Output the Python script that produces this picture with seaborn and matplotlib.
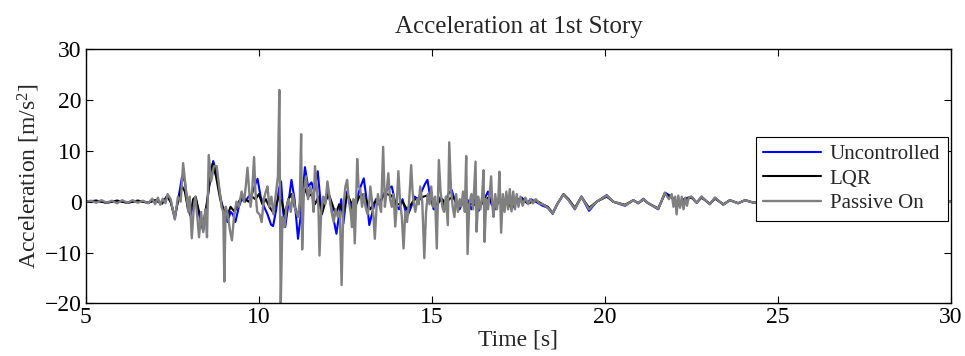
import numpy as np
import pandas as pd
import matplotlib
matplotlib.use("Agg")
import matplotlib.pyplot as plt
import seaborn as sns

# Uncontrolled response: time [s] and acceleration [m/s^2]
t_unc = [5.0, 5.3, 5.6, 5.9, 6.2, 6.5, 6.8, 7.0, 7.2, 7.35, 7.45, 7.57, 7.67, 7.78, 7.86, 7.95, 8.02, 8.1,
         8.17, 8.27, 8.39, 8.48, 8.57, 8.68, 8.78, 8.9, 9.0, 9.09, 9.18, 9.25, 9.32, 9.42, 9.5, 9.6, 9.7,
         9.8, 9.9, 9.96, 10.05, 10.15, 10.25, 10.35, 10.41, 10.5, 10.58, 10.64, 10.7, 10.76, 10.84, 10.94,
         11.03, 11.13, 11.22, 11.33, 11.42, 11.52, 11.6, 11.7, 11.8, 11.9, 12.0, 12.1, 12.24, 12.32, 12.38,
         12.44, 12.55, 12.65, 12.75, 12.85, 12.94, 13.03, 13.12, 13.19, 13.28, 13.38, 13.5, 13.6, 13.72,
         13.84, 13.95, 14.05, 14.15, 14.28, 14.4, 14.5, 14.6, 14.7, 14.8, 14.87, 14.95, 15.05, 15.15, 15.25,
         15.35, 15.47, 15.57, 15.7, 15.8, 15.92, 16.02, 16.14, 16.25, 16.35, 16.45, 16.55, 16.62, 16.72,
         16.82, 16.95, 17.05, 17.15, 17.3, 17.45, 17.6, 17.75, 17.85, 18.0, 18.2, 18.35, 18.49, 18.62, 18.8,
         18.95, 19.13, 19.32, 19.54, 19.76, 20.05, 20.24, 20.4, 20.58, 20.82, 20.96, 21.11, 21.25, 21.54,
         21.73, 21.93, 22.1, 22.3, 22.5, 22.65, 22.79, 23.03, 23.18, 23.42, 23.61, 23.85, 24.05, 24.3, 24.6,
         25.0, 25.5, 26.0, 26.6, 27.2, 27.8, 28.4, 29.0, 29.6, 30.0]
a_unc = [0.0, 0.2, -0.2, 0.2, -0.2, 0.2, -0.2, 0.3, -0.4, 1.2, 0.0, -3.3, 0.5, 5.0, 4.0, -1.0, -2.8, -0.5,
         0.8, -2.5, -5.8, -1.5, 3.5, 8.0, 5.5, 0.5, -2.5, -4.0, -2.0, -2.5, -4.0, -1.0, 0.5, 0.0, 1.0,
         1.5, 3.5, 4.5, 1.0, -1.0, -2.5, -4.5, -4.8, -1.5, 2.5, 4.0, -2.0, -5.0, -1.0, 4.3,
         0.5, -7.3, -2.0, 6.8, 3.0, 3.8, 2.0, 6.0, -1.5, 0.5, 2.0, -1.5, -6.3, -2.5, 0.5,
         -4.3, 2.0, -0.5, -2.5, 1.0, 3.0, 4.6, 0.0, -4.6, -2.0, 0.5, -0.5, 1.5, 2.5,
         3.0, -0.5, -1.5, 0.5, -3.0, -1.0, 1.0, 0.5, 2.0, 3.5, 4.3, 1.0, -1.5, -1.0, 1.0,
         -1.0, 1.5, 2.3, -0.5, -1.5, 0.5, 0.5, -1.5, 0.5, -1.8, 0.0, 1.0, 2.0, -0.5,
         -1.5, 0.5, -0.5, 0.8, -1.5, 0.3, 0.8, -0.3, 0.5, 0.0, -0.8, -1.2, -2.4, -0.5, 1.4,
         0.3, -1.5, 1.0, -1.8, 0.0, 1.3, 0.0, -0.4, -0.8, 0.3, -0.3, 0.6, -0.3, -1.5,
         1.8, 1.0, -0.8, 0.6, 1.0, -0.2, 1.0, -0.5, 0.8, -0.6, 0.3, -0.3, 0.3, -0.2, 0.4,
         -0.3, 0.3, -0.2, 0.2, -0.2, 0.2, -0.1, 0.1, -0.1, 0.0]

# LQR-controlled response
t_lqr = [5.0, 5.3, 5.6, 5.9, 6.2, 6.5, 6.8, 7.0, 7.2, 7.35, 7.45, 7.57, 7.67, 7.78, 7.86, 7.95, 8.02, 8.1,
         8.17, 8.27, 8.39, 8.48, 8.57, 8.66, 8.76, 8.88, 9.0, 9.08, 9.18, 9.3, 9.42, 9.5, 9.6, 9.7, 9.8,
         9.9, 10.0, 10.1, 10.2, 10.3, 10.4, 10.5, 10.58, 10.66, 10.75, 10.85, 10.94, 11.03, 11.13, 11.22,
         11.33, 11.42, 11.52, 11.62, 11.72, 11.82, 11.92, 12.02, 12.12, 12.22, 12.32, 12.44, 12.55, 12.65,
         12.78, 12.9, 13.03, 13.15, 13.22, 13.35, 13.47, 13.58, 13.7, 13.84, 13.95, 14.05, 14.15, 14.28,
         14.4, 14.5, 14.62, 14.75, 14.87, 15.0, 15.1, 15.2, 15.3, 15.4, 15.5, 15.6, 15.7, 15.85, 15.95,
         16.05, 16.2, 16.35, 16.5, 16.62, 16.75, 16.85, 17.0, 17.15, 17.3, 17.45, 17.6, 17.8, 18.0, 18.2,
         18.35, 18.49, 18.62, 18.8, 18.95, 19.13, 19.32, 19.54, 19.76, 20.05, 20.24, 20.58, 20.82, 20.96,
         21.11, 21.25, 21.54, 21.73, 21.93, 22.1, 22.3, 22.5, 22.65, 22.79, 23.03, 23.18, 23.42, 23.61,
         23.85, 24.05, 24.3, 24.6, 25.0, 25.5, 26.0, 26.6, 27.2, 27.8, 28.4, 29.0, 29.6, 30.0]
a_lqr = [0.0, 0.2, -0.2, 0.2, -0.2, 0.2, -0.2, 0.3, -0.3, 1.0, 0.0, -3.0, 0.5, 3.0, 2.0, -1.5, -2.5, 0.5,
         1.0, -2.0, -4.5, -1.0, 3.5, 7.5, 5.0, 0.5, -2.0, -3.0, -1.0, -2.0, 0.0, 1.0, 0.5, 0.0, 1.0,
         0.5, 1.5, -0.5, 0.5, -1.0, -2.0, -0.5, 1.0, 0.0, -2.5, 0.5, 1.5, -1.0, -2.8, 0.5,
         2.5, 1.0, 1.5, -0.5, 1.0, -2.5, 0.0, 1.5, -0.5, -2.5, -0.5, -2.0, 1.5, 0.0,
         -1.0, 1.0, 1.5, -0.5, -1.5, 0.0, -0.5, 1.0, 1.5, 1.2, -0.5, -0.5, 0.0, -1.5,
         -0.5, 0.5, 0.3, 1.0, 1.2, 0.0, -0.8, 0.0, 0.5, -0.5, 0.5, 1.0, 0.0, -0.5, 0.5,
         -0.3, -0.5, -1.0, 0.0, 0.8, -0.3, -0.5, 0.3, 0.5, -0.5, 0.3, 0.5, -0.3, 0.3, -0.5,
         -1.0, -2.2, -0.5, 1.5, 0.5, -1.2, 1.0, -1.2, 0.0, 1.0, 0.0, -0.6, 0.3, -0.3,
         0.4, -0.3, -1.3, 1.5, 0.8, -0.6, 0.5, 0.8, -0.2, 0.8, -0.4, 0.6, -0.5, 0.3,
         -0.3, 0.3, -0.2, 0.3, -0.2, 0.2, -0.2, 0.2, -0.1, 0.1, -0.1, 0.1, 0.0, 0.0]

# Passive-on damper response
t_pas = [5.0, 5.15, 5.3, 5.45, 5.6, 5.75, 5.9, 6.05, 6.2, 6.35, 6.5, 6.65, 6.8, 6.92, 7.0, 7.08, 7.15, 7.22,
         7.3, 7.36, 7.45, 7.57, 7.66, 7.74, 7.81, 7.88, 7.96, 8.0, 8.06, 8.12, 8.16, 8.22, 8.27, 8.33, 8.39,
         8.45, 8.5, 8.55, 8.62, 8.7, 8.78, 8.85, 8.92, 8.97, 9.0, 9.04, 9.1, 9.16, 9.22, 9.28, 9.35, 9.42,
         9.5, 9.57, 9.62, 9.67, 9.72, 9.76, 9.8, 9.86, 9.9, 9.95, 10.02, 10.08, 10.14, 10.2, 10.25, 10.3,
         10.36, 10.42, 10.48, 10.55, 10.59, 10.63, 10.68, 10.74, 10.8, 10.86, 10.92, 10.98, 11.05, 11.13,
         11.18, 11.22, 11.25, 11.3, 11.36, 11.42, 11.48, 11.54, 11.58, 11.62, 11.67, 11.72, 11.75, 11.8,
         11.86, 11.92, 11.98, 12.04, 12.1, 12.16, 12.22, 12.28, 12.34, 12.39, 12.44, 12.5, 12.55, 12.6,
         12.65, 12.69, 12.73, 12.77, 12.81, 12.84, 12.88, 12.93, 12.98, 13.03, 13.08, 13.14, 13.18, 13.22,
         13.27, 13.31, 13.35, 13.4, 13.44, 13.48, 13.53, 13.59, 13.64, 13.69, 13.74, 13.79, 13.84, 13.89,
         13.94, 13.98, 14.03, 14.08, 14.13, 14.18, 14.23, 14.28, 14.34, 14.4, 14.44, 14.47, 14.52, 14.58,
         14.62, 14.66, 14.72, 14.78, 14.83, 14.88, 14.93, 14.98, 15.03, 15.09, 15.14, 15.2, 15.25, 15.3,
         15.35, 15.4, 15.46, 15.5, 15.55, 15.6, 15.65, 15.7, 15.75, 15.8, 15.85, 15.9, 15.95, 15.99, 16.03,
         16.08, 16.14, 16.19, 16.26, 16.29, 16.34, 16.4, 16.45, 16.49, 16.52, 16.57, 16.62, 16.66, 16.71,
         16.75, 16.78, 16.83, 16.88, 16.92, 16.95, 17.0, 17.05, 17.1, 17.15, 17.2, 17.25, 17.3, 17.35,
         17.4, 17.45, 17.5, 17.56, 17.62, 17.7, 17.78, 17.85, 17.92, 18.0, 18.1, 18.2, 18.35, 18.49, 18.62,
         18.8, 18.95, 19.13, 19.32, 19.54, 19.76, 20.05, 20.24, 20.58, 20.82, 20.96, 21.11, 21.25, 21.54,
         21.73, 21.85, 21.93, 21.98, 22.03, 22.07, 22.12, 22.17, 22.22, 22.27, 22.32, 22.37, 22.42, 22.5,
         22.65, 22.79, 23.03, 23.18, 23.42, 23.61, 23.85, 24.05, 24.3, 24.6, 25.0, 25.5, 26.0, 26.6, 27.2,
         27.8, 28.4, 29.0, 29.6, 30.0]
a_pas = [0.0, 0.2, -0.2, 0.3, -0.2, 0.2, -0.3, 0.3, -0.2, 0.3, -0.2, 0.2, -0.3, 0.6, -0.5, 0.8, -0.6, 0.6,
         -0.3, 1.5, 0.5, -3.5, 1.0, 0.0, 7.6, 3.0, -2.0, 1.0, -7.2, -1.0, 1.0, -3.0, -7.0, -2.0, -6.0,
         -1.5, -7.0, 9.2, 4.0, 7.0, 7.0, 3.0, -1.0, -2.0, -15.7, -1.0, -2.5, -5.5, -7.6, -3.0, 0.0, -1.0,
         2.0, 0.0, 3.0, 6.7, 2.0, -1.0, 1.5, 8.8, 2.0, -2.0, -2.5, -4.0, 0.5, 2.0, 3.0, -1.0,
         1.0, -2.5, 1.0, 5.0, 22.0, -21.0, -3.0, -5.0, -1.0, 0.5, -2.0, 1.5, -1.5, -3.0,
         0.0, 13.3, -9.4, 2.0, 5.0, 0.5, 3.0, 1.5, -2.0, 7.0, 3.0, -1.0, -10.6, -2.0,
         1.0, -0.5, 4.0, 1.0, -2.0, -4.0, -1.5, -3.0, -2.0, -16.4, -1.0, 3.0, 4.3, 0.0,
         -2.0, -5.0, 0.5, -8.2, 0.0, 8.4, 3.0, 2.5, -1.0, 1.5, -1.0, -2.5, -1.0, 3.0,
         0.0, -3.0, -7.3, -1.0, 1.5, -0.5, -2.0, 10.8, -1.0, 2.0, 5.6, 0.5, -1.0, 1.5,
         -4.9, -1.0, 6.0, 0.0, -3.0, -9.2, -2.0, -4.0, 0.0, 7.2, 2.0, 0.0, -2.0, 0.5,
         -0.5, 3.0, 0.0, -11.1, -2.0, 1.5, -0.5, 3.0, -1.0, 1.0, -9.2, 8.2, 2.0, -1.0,
         -2.0, 1.0, -4.6, 11.7, 2.5, -1.0, -3.0, 1.5, -2.0, 0.5, -1.0, 2.0, -2.0, 9.0, -10.3,
         -0.5, 1.5, -1.5, 7.9, -5.9, 1.0, -1.5, 1.0, 6.2, -7.9, 0.5, -1.5, 1.0, 5.0,
         -1.0, -3.0, 1.5, -1.5, 1.0, 5.9, -6.1, 1.5, -2.0, 2.0, -1.5, 2.5, -1.9, 2.0,
         -1.5, 1.5, -1.0, 1.0, -0.8, 0.8, -0.5, 0.5, -0.3, 0.5, -0.3, -0.5, -1.2, -2.3, -0.5,
         1.4, 0.3, -1.4, 1.0, -1.5, 0.0, 1.2, 0.0, -0.7, 0.3, -0.3, 0.5, -0.3, -1.4,
         1.7, 0.5, 1.5, -1.0, 1.0, -2.5, 1.2, -1.2, 1.0, -1.5, 0.8, -0.8, 0.8, 1.0,
         -0.2, 1.0, -0.5, 0.8, -0.6, 0.3, -0.3, 0.3, -0.2, 0.3, -0.3, 0.3, -0.2, 0.2, -0.2,
         0.2, -0.1, 0.1, -0.1, 0.0]

series_names = ["Uncontrolled", "LQR", "Passive On"]
series_colors = ["#0000ff", "#000000", "#808080"]
series_widths = [1.5, 1.5, 1.7]

df = pd.concat([
    pd.DataFrame({"t": t_unc, "a": a_unc, "case": series_names[0]}),
    pd.DataFrame({"t": t_lqr, "a": a_lqr, "case": series_names[1]}),
    pd.DataFrame({"t": t_pas, "a": a_pas, "case": series_names[2]}),
], ignore_index=True)

sns.set_theme(style="white")
plt.rcParams["font.family"] = ["Liberation Serif", "DejaVu Serif"]
plt.rcParams["mathtext.fontset"] = "custom"
plt.rcParams["mathtext.rm"] = "Liberation Serif"
plt.rcParams["mathtext.it"] = "Liberation Serif:italic"
plt.rcParams["axes.unicode_minus"] = True

fig = plt.figure(figsize=(9.65, 3.56), dpi=100)
ax = fig.add_axes([0.089, 0.148, 0.8965, 0.7135])

sns.lineplot(data=df, x="t", y="a", hue="case", hue_order=series_names,
             palette=series_colors, estimator=None, sort=False, linewidth=1.5, ax=ax)
for line, lw in zip(ax.lines, series_widths):
    line.set_linewidth(lw)

ax.set_xlim(5, 30)
ax.set_ylim(-20, 30)
ax.set_xticks([5, 10, 15, 20, 25, 30])
ax.set_yticks([-20, -10, 0, 10, 20, 30])
ax.set_xlabel("Time [s]", fontsize=17, labelpad=1)
ax.set_ylabel("Acceleration [m/s$^2$]", fontsize=17, labelpad=2)
ax.set_title("Acceleration at 1st Story", fontsize=18, pad=12)

for side in ["left", "right", "top", "bottom"]:
    ax.spines[side].set_visible(True)
    ax.spines[side].set_color("black")
    ax.spines[side].set_linewidth(1.0)
ax.tick_params(direction="in", length=5, width=0.8, colors="black", labelsize=17,
               top=True, right=True, bottom=True, left=True, pad=3)
ax.grid(False)

leg = ax.legend(loc="center right", bbox_to_anchor=(0.996, 0.49), fontsize=15,
                frameon=True, fancybox=False, framealpha=1, edgecolor="black",
                handlelength=2.8, borderpad=0.35, labelspacing=0.25, handletextpad=0.4,
                borderaxespad=0.0)
leg.get_frame().set_linewidth(0.8)
for line, lw in zip(leg.get_lines(), series_widths):
    line.set_linewidth(lw)

fig.savefig("out.png", dpi=100)
